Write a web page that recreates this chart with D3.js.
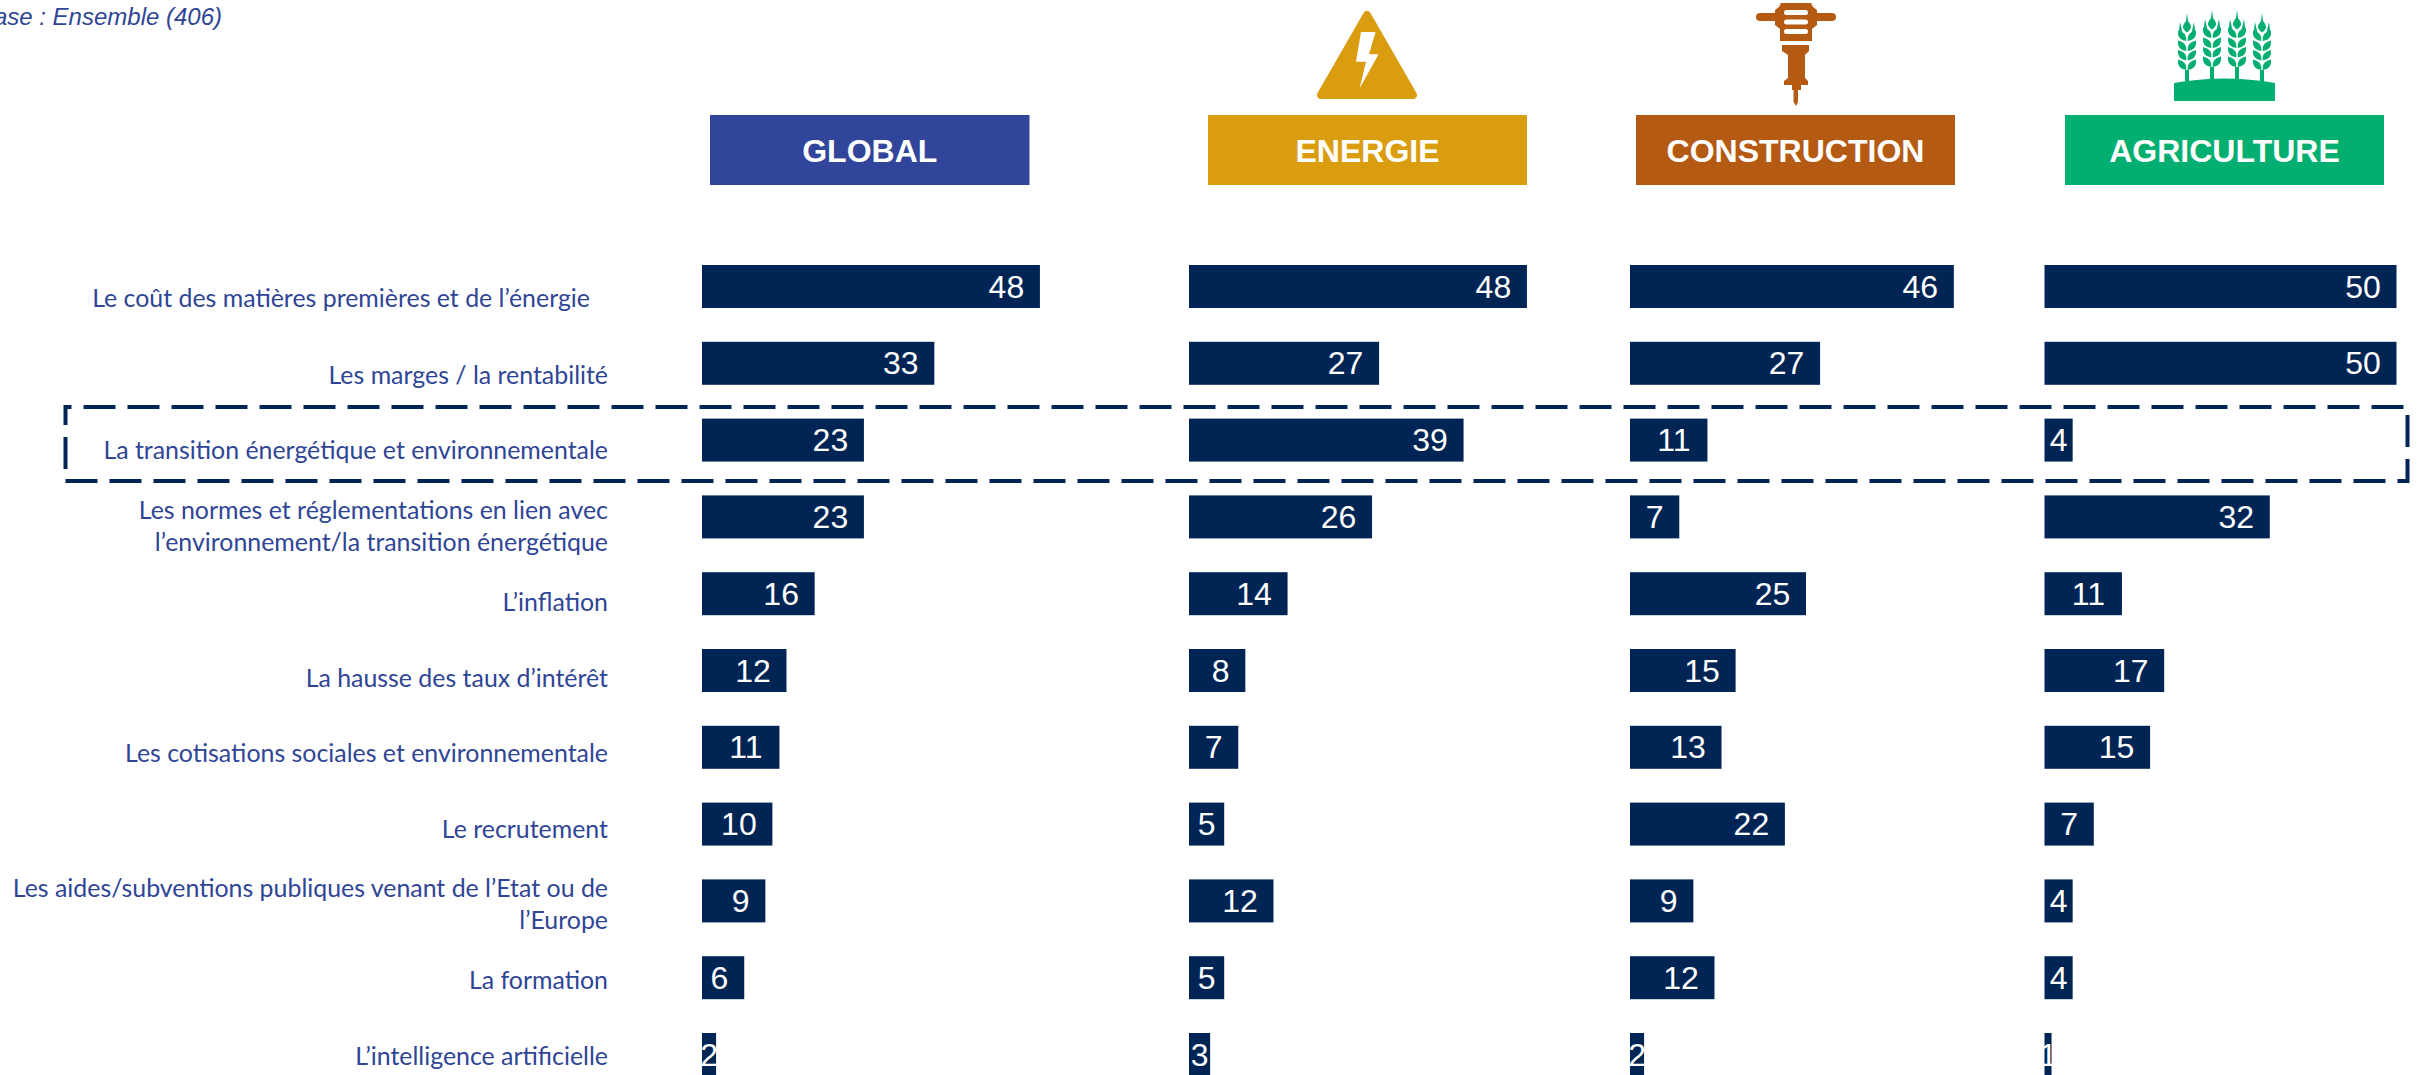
<!DOCTYPE html>
<html lang="fr">
<head>
<meta charset="utf-8">
<script src="https://cdn.jsdelivr.net/npm/d3@7"></script>
<style>
html,body{margin:0;padding:0;background:#fff;overflow:hidden}
svg{display:block}
</style>
</head>
<body>
<script>
const categories = [
  ["Le coût des matières premières et de l’énergie"],
  ["Les marges / la rentabilité"],
  ["La transition énergétique et environnementale"],
  ["Les normes et réglementations en lien avec","l’environnement/la transition énergétique"],
  ["L’inflation"],
  ["La hausse des taux d’intérêt"],
  ["Les cotisations sociales et environnementale"],
  ["Le recrutement"],
  ["Les aides/subventions publiques venant de l’Etat ou de","l’Europe"],
  ["La formation"],
  ["L’intelligence artificielle"]
];
const sectors = ["GLOBAL","ENERGIE","CONSTRUCTION","AGRICULTURE"];
const valuesGlobal       = [48,33,23,23,16,12,11,10,9,6,2];
const valuesEnergie      = [48,27,39,26,14,8,7,5,12,5,3];
const valuesConstruction = [46,27,11,7,25,15,13,22,9,12,2];
const valuesAgriculture  = [50,50,4,32,11,17,15,7,4,4,1];
const baseNote = "Base : Ensemble (406)";

const W = 2420, H = 1075;
const NAVY = "#002555", LABEL = "#2F4596";
const panels = [
  {name:sectors[0], values:valuesGlobal,       x0:702,    head:[710,1029.5],  color:"#31469B"},
  {name:sectors[1], values:valuesEnergie,      x0:1189,   head:[1208,1527],   color:"#DA9D10"},
  {name:sectors[2], values:valuesConstruction, x0:1630,   head:[1636,1955],   color:"#B55A13"},
  {name:sectors[3], values:valuesAgriculture,  x0:2044.5, head:[2065,2384],   color:"#03AF70"}
];

const svg = d3.select("body").append("svg").attr("width",W).attr("height",H).attr("viewBox",`0 0 ${W} ${H}`);

const y = d3.scaleBand().domain(d3.range(categories.length)).range([265,265+76.8*(categories.length-1)+43]).paddingInner(33.8/76.8).paddingOuter(0);
const len = d3.scaleLinear().domain([0,50]).range([0,352]);
const VAL = 'font-family:"Liberation Sans",Arial,sans-serif';

// base note
svg.append("text").attr("x",222).attr("y",25).attr("text-anchor","end")
  .attr("style",`${VAL};font-style:italic;font-size:24px`).attr("fill",LABEL).text(baseNote);

// row labels
const rowBase = k => 308 + 75.7*k;
const labelRight = k => k===0 ? 590 : 608;
const lab = svg.append("g").attr("font-family","Lato, Carlito, sans-serif").attr("font-size",24.9).attr("fill",LABEL).attr("text-anchor","end");
categories.forEach((lines,k)=>{
  lines.forEach((t,i)=>{
    const off = lines.length===2 ? (i===0?-16.5:15.5) : 0;
    lab.append("text").attr("x",labelRight(k)).attr("y",rowBase(k)+off-(k===0?1.5:0)).text(t);
  });
});

// dashed highlight
svg.append("rect").attr("x",65.5).attr("y",407).attr("width",2342).attr("height",74)
  .attr("fill","none").attr("stroke",NAVY).attr("stroke-width",4)
  .attr("stroke-dasharray","32 12").attr("stroke-dashoffset",26);

// panels
panels.forEach(p=>{
  svg.append("rect").attr("x",p.head[0]).attr("y",115).attr("width",p.head[1]-p.head[0]).attr("height",70).attr("fill",p.color);
  svg.append("text").attr("x",(p.head[0]+p.head[1])/2).attr("y",162).attr("text-anchor","middle")
    .attr("style",`${VAL};font-weight:700;font-size:32px`).attr("fill","#fff").text(p.name);
  const g = svg.append("g").attr("transform",`translate(${p.x0},0)`);
  g.selectAll("rect").data(p.values).join("rect")
    .attr("x",0).attr("y",(d,i)=>y(i)).attr("width",d=>len(d)).attr("height",y.bandwidth()).attr("fill",NAVY);
  g.selectAll("text").data(p.values).join("text")
    .attr("x",d=>{const w=len(d), lw=d>=10?35:17.5; return w>=40 ? w-16-lw/2 : w/2;})
    .attr("y",(d,i)=>y(i)+y.bandwidth()/2+11)
    .attr("text-anchor","middle").attr("style",`${VAL};font-size:32px`).attr("fill","#fff").text(d=>d);
});

// icon: energy
const en = svg.append("g");
en.append("path").attr("fill",panels[1].color).attr("stroke",panels[1].color).attr("stroke-width",8).attr("stroke-linejoin","round")
  .attr("d","M1367 15 L1413 95 L1321 95 Z");
en.append("path").attr("fill","#fff").attr("d","M1361 32 L1375.6 32 L1369 54.3 L1378.6 54.3 L1359.5 88.5 L1366 61.7 L1356 61.7 Z");

// icon: jackhammer
const jh = svg.append("g").attr("fill",panels[2].color);
jh.append("rect").attr("x",1756).attr("y",13).attr("width",80).attr("height",8).attr("rx",4);
jh.append("path").attr("d","M1781 3 L1811 3 L1813 7 L1817 10 L1817 25 L1812 29 L1812 41 L1780 41 L1780 29 L1775 25 L1775 10 L1779 7 Z");
jh.append("path").attr("d","M1782 45 L1809 45 L1809 51 L1805 55 L1805 78 L1808 81 L1808 85 L1801 85 L1801 90 L1798 90 L1798 102 L1796 106 L1793.5 102 L1793.5 90 L1792 90 L1792 85 L1784 85 L1784 81 L1788 78 L1788 55 L1782 51 Z");
[10,19.5,29].forEach(yy=>jh.append("rect").attr("x",1784).attr("y",yy).attr("width",24).attr("height",5).attr("rx",2.5).attr("fill","#fff"));

// icon: wheat
const wh = svg.append("g").attr("fill",panels[3].color);
wh.append("path").attr("d","M2174 83 Q2224.5 74 2275 83 L2275 101 L2174 101 Z");
[[2187,0],[2212,-3],[2237,-3],[2262,0]].forEach(([cx,dy])=>{
  const s = wh.append("g").attr("transform",`translate(${cx},${dy})`);
  s.append("rect").attr("x",-2).attr("y",70).attr("width",4).attr("height",12);
  s.append("path").attr("d","M0 13 L1 21 Q4.5 25 4 28 Q2 31.5 0 32.5 Q-2 31.5 -4 28 Q-4.5 25 -1 21 Z");
  [-1,1].forEach(sg=>{
    s.append("path").attr("d",`M${sg*7} 22 L${sg*8.5} 34 L${sg*7} 36 L${sg*4.5} 33 Z`);
    [31,41,50.5,60].forEach(t=>{
      s.append("path").attr("d",`M${sg*0.7} ${t+10} Q${sg*-0.5} ${t+1.5} ${sg*9} ${t-0.5} Q${sg*10} ${t+9} ${sg*0.7} ${t+10} Z`);
    });
  });
});
</script>
</body>
</html>
